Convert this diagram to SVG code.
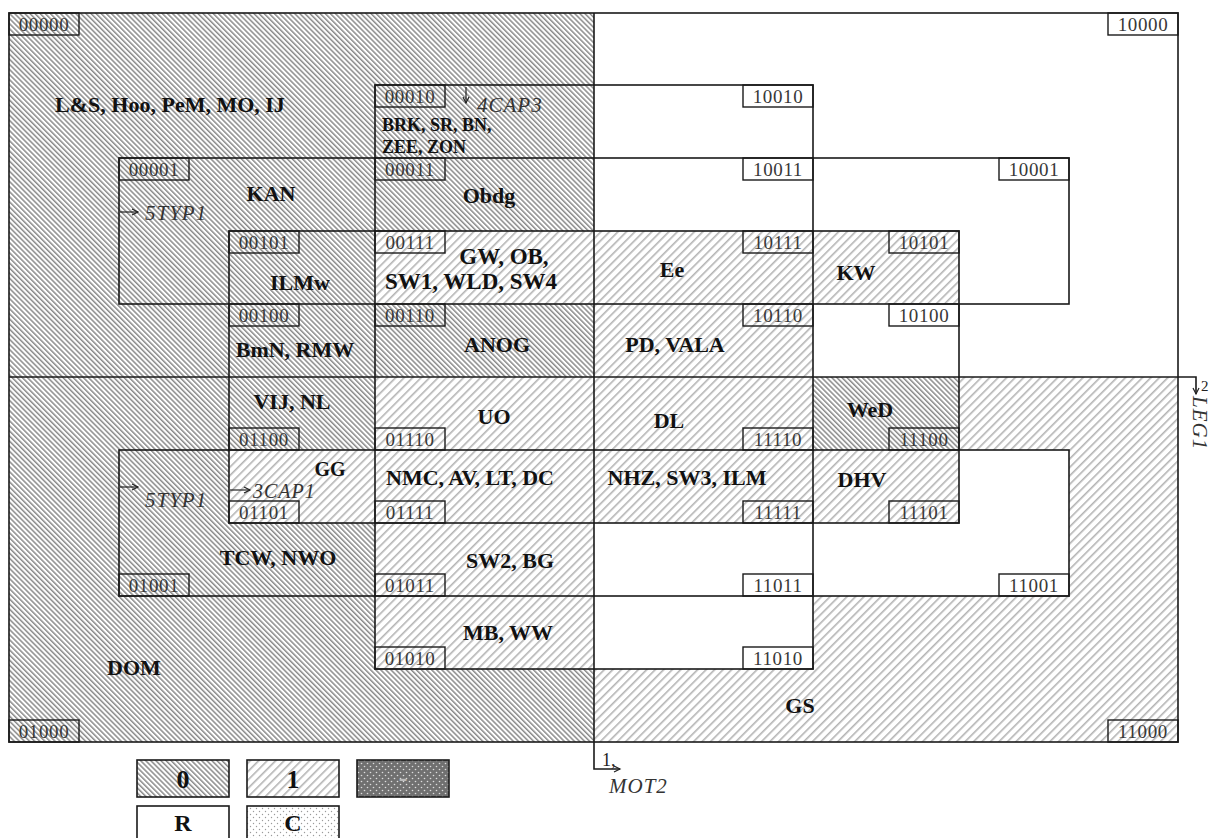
<svg xmlns="http://www.w3.org/2000/svg" width="1210" height="838" viewBox="0 0 1210 838">
<defs>
<pattern id="p0" patternUnits="userSpaceOnUse" width="3.6" height="3.6" patternTransform="rotate(-45)"><rect width="3.6" height="3.6" fill="#ffffff"/><rect width="1.5" height="3.6" fill="#8a8a8a"/></pattern>
<pattern id="p1" patternUnits="userSpaceOnUse" width="6" height="6" patternTransform="rotate(45)"><rect width="6" height="6" fill="#ffffff"/><rect width="1.6" height="6" fill="#b4b4b4"/></pattern>
<pattern id="pd" patternUnits="userSpaceOnUse" width="6" height="6"><rect width="6" height="6" fill="#707070"/><circle cx="1.5" cy="1.5" r="0.8" fill="#dddddd"/><circle cx="4.5" cy="4.5" r="0.8" fill="#dddddd"/></pattern>
<pattern id="pc" patternUnits="userSpaceOnUse" width="6" height="6"><rect width="6" height="6" fill="#ffffff"/><circle cx="1.5" cy="1.5" r="0.7" fill="#9a9a9a"/><circle cx="4.5" cy="4.5" r="0.7" fill="#9a9a9a"/></pattern>
<marker id="ah" markerUnits="userSpaceOnUse" markerWidth="10" markerHeight="10" refX="7" refY="4" orient="auto"><path d="M1,1 L7,4 L1,7" fill="none" stroke="#222" stroke-width="1.2"/></marker>
</defs>
<style>
.ln{fill:none;stroke:#1a1a1a;stroke-width:1.6}
.lb{stroke:#1a1a1a;stroke-width:1.6}
.cb{fill:none;stroke:#1a1a1a;stroke-width:1.4}
.ar{fill:none;stroke:#222;stroke-width:1.2}
.ct{font-family:"Liberation Serif","Times New Roman",serif;font-size:19px;fill:#383838;text-anchor:middle;letter-spacing:0.6px}
.nm{font-family:"Liberation Serif","Times New Roman",serif;font-weight:bold;font-size:22px;fill:#111;text-anchor:middle}
.lg{font-family:"Liberation Serif","Times New Roman",serif;font-weight:bold;font-size:26px;fill:#111;text-anchor:middle}
.sm{font-family:"Liberation Serif","Times New Roman",serif;font-weight:bold;font-size:18px;fill:#111}
.it{font-family:"Liberation Serif","Times New Roman",serif;font-style:italic;font-size:21px;fill:#333;letter-spacing:1px}
.rg{font-family:"Liberation Serif","Times New Roman",serif;font-size:18px;fill:#222}
</style>
<rect width="1210" height="838" fill="#ffffff"/>
<g id="fills">
<rect x="9" y="13" width="585" height="364" fill="url(#p0)"/>
<rect x="594" y="13" width="584" height="364" fill="#ffffff"/>
<rect x="9" y="377" width="585" height="365" fill="url(#p0)"/>
<rect x="594" y="377" width="584" height="365" fill="url(#p1)"/>
<rect x="375" y="231" width="219" height="73" fill="url(#p1)"/>
<rect x="594" y="231" width="219" height="146" fill="url(#p1)"/>
<rect x="813" y="231" width="146" height="73" fill="url(#p1)"/>
<rect x="229" y="450" width="146" height="73" fill="url(#p1)"/>
<rect x="375" y="377" width="219" height="292" fill="url(#p1)"/>
<rect x="813" y="377" width="146" height="73" fill="url(#p0)"/>
<rect x="959" y="450" width="110" height="73" fill="#ffffff"/>
<rect x="813" y="523" width="256" height="73" fill="#ffffff"/>
<rect x="594" y="523" width="219" height="146" fill="#ffffff"/>
</g>
<g id="connectors">
<rect class="ln" x="9" y="13" width="1169" height="729"/>
<rect class="ln" x="229" y="231" width="730" height="292"/>
<rect class="ln" x="375" y="85" width="438" height="584"/>
<rect class="ln" x="119" y="158" width="950" height="146"/>
<rect class="ln" x="119" y="450" width="950" height="146"/>
<path class="ln" d="M594,13 V769 H620" marker-end="url(#ah)"/>
<path class="ln" d="M9,377 H1196 V394" marker-end="url(#ah)"/>
<path class="ar" d="M466,87 V103" marker-end="url(#ah)"/>
<path class="ar" d="M120,212 H138" marker-end="url(#ah)"/>
<path class="ar" d="M120,487 H138" marker-end="url(#ah)"/>
<path class="ar" d="M230,490 H250" marker-end="url(#ah)"/>
</g>
<g id="annotations">
<text class="it" x="477" y="112">4CAP3</text>
<text class="it" x="145" y="220">5TYP1</text>
<text class="it" x="145" y="507">5TYP1</text>
<text class="it" x="253" y="498" style="font-size:20px">3CAP1</text>
<text class="rg" x="602" y="766">1,</text>
<text class="it" x="609" y="793">MOT2</text>
<text class="rg" x="1201" y="391" style="font-size:15px">2</text>
<text class="it" transform="translate(1193,396) rotate(90)">LEG1</text>
</g>
<g id="c00000"><rect class="cb" x="9" y="13" width="70" height="22"/><text class="ct" x="44" y="31">00000</text><text class="nm" x="170" y="112">L&amp;S, Hoo, PeM, MO, IJ</text></g>
<g id="c00001"><rect class="cb" x="119" y="158" width="70" height="22"/><text class="ct" x="154" y="176">00001</text><text class="nm" x="271" y="201">KAN</text></g>
<g id="c00101"><rect class="cb" x="229" y="231" width="70" height="22"/><text class="ct" x="264" y="249">00101</text><text class="nm" x="300" y="290">ILMw</text></g>
<g id="c00100"><rect class="cb" x="229" y="304" width="70" height="22"/><text class="ct" x="264" y="322">00100</text><text class="nm" x="295" y="357">BmN, RMW</text></g>
<g id="c00010"><rect class="cb" x="375" y="85" width="70" height="22"/><text class="ct" x="410" y="103">00010</text><text class="sm" x="382" y="131">BRK, SR, BN,</text><text class="sm" x="382" y="153">ZEE, ZON</text></g>
<g id="c00011"><rect class="cb" x="375" y="158" width="70" height="22"/><text class="ct" x="410" y="176">00011</text><text class="nm" x="489" y="203">Obdg</text></g>
<g id="c00111"><rect class="cb" x="375" y="231" width="70" height="22"/><text class="ct" x="410" y="249">00111</text><text class="nm" x="504" y="264" style="font-size:23px">GW, OB,</text><text class="nm" x="471" y="289" style="font-size:23px">SW1, WLD, SW4</text></g>
<g id="c00110"><rect class="cb" x="375" y="304" width="70" height="22"/><text class="ct" x="410" y="322">00110</text><text class="nm" x="497" y="352">ANOG</text></g>
<g id="c10000"><rect class="cb" x="1108" y="13" width="70" height="22"/><text class="ct" x="1143" y="31">10000</text></g>
<g id="c10010"><rect class="cb" x="743" y="85" width="70" height="22"/><text class="ct" x="778" y="103">10010</text></g>
<g id="c10011"><rect class="cb" x="743" y="158" width="70" height="22"/><text class="ct" x="778" y="176">10011</text></g>
<g id="c10111"><rect class="cb" x="743" y="231" width="70" height="22"/><text class="ct" x="778" y="249">10111</text><text class="nm" x="672" y="277">Ee</text></g>
<g id="c10110"><rect class="cb" x="743" y="304" width="70" height="22"/><text class="ct" x="778" y="322">10110</text><text class="nm" x="675" y="352">PD, VALA</text></g>
<g id="c10001"><rect class="cb" x="999" y="158" width="70" height="22"/><text class="ct" x="1034" y="176">10001</text></g>
<g id="c10101"><rect class="cb" x="889" y="231" width="70" height="22"/><text class="ct" x="924" y="249">10101</text><text class="nm" x="856" y="280">KW</text></g>
<g id="c10100"><rect class="cb" x="889" y="304" width="70" height="22"/><text class="ct" x="924" y="322">10100</text></g>
<g id="c01000"><rect class="cb" x="9" y="720" width="70" height="22"/><text class="ct" x="44" y="738">01000</text><text class="nm" x="134" y="675">DOM</text></g>
<g id="c01001"><rect class="cb" x="119" y="574" width="70" height="22"/><text class="ct" x="154" y="592">01001</text><text class="nm" x="278" y="565">TCW, NWO</text></g>
<g id="c01100"><rect class="cb" x="229" y="428" width="70" height="22"/><text class="ct" x="264" y="446">01100</text><text class="nm" x="292" y="409">VIJ, NL</text></g>
<g id="c01101"><rect class="cb" x="229" y="501" width="70" height="22"/><text class="ct" x="264" y="519">01101</text><text class="nm" x="330" y="476" style="font-size:20px">GG</text></g>
<g id="c01110"><rect class="cb" x="375" y="428" width="70" height="22"/><text class="ct" x="410" y="446">01110</text><text class="nm" x="494" y="424">UO</text></g>
<g id="c01111"><rect class="cb" x="375" y="501" width="70" height="22"/><text class="ct" x="410" y="519">01111</text><text class="nm" x="470" y="485">NMC, AV, LT, DC</text></g>
<g id="c01011"><rect class="cb" x="375" y="574" width="70" height="22"/><text class="ct" x="410" y="592">01011</text><text class="nm" x="510" y="568">SW2, BG</text></g>
<g id="c01010"><rect class="cb" x="375" y="647" width="70" height="22"/><text class="ct" x="410" y="665">01010</text><text class="nm" x="508" y="640">MB, WW</text></g>
<g id="c11000"><rect class="cb" x="1108" y="720" width="70" height="22"/><text class="ct" x="1143" y="738">11000</text><text class="nm" x="800" y="713">GS</text></g>
<g id="c11001"><rect class="cb" x="999" y="574" width="70" height="22"/><text class="ct" x="1034" y="592">11001</text></g>
<g id="c11100"><rect class="cb" x="889" y="428" width="70" height="22"/><text class="ct" x="924" y="446">11100</text><text class="nm" x="870" y="417">WeD</text></g>
<g id="c11101"><rect class="cb" x="889" y="501" width="70" height="22"/><text class="ct" x="924" y="519">11101</text><text class="nm" x="862" y="487">DHV</text></g>
<g id="c11110"><rect class="cb" x="743" y="428" width="70" height="22"/><text class="ct" x="778" y="446">11110</text><text class="nm" x="669" y="428">DL</text></g>
<g id="c11111"><rect class="cb" x="743" y="501" width="70" height="22"/><text class="ct" x="778" y="519">11111</text><text class="nm" x="687" y="485">NHZ, SW3, ILM</text></g>
<g id="c11011"><rect class="cb" x="743" y="574" width="70" height="22"/><text class="ct" x="778" y="592">11011</text></g>
<g id="c11010"><rect class="cb" x="743" y="647" width="70" height="22"/><text class="ct" x="778" y="665">11010</text></g>
<g id="legend">
<g id="leg0"><rect class="lb" x="137" y="760" width="92" height="37" fill="url(#p0)"/><text class="lg" x="183" y="788">0</text></g>
<g id="leg1"><rect class="lb" x="247" y="760" width="92" height="37" fill="url(#p1)"/><text class="lg" x="293" y="788">1</text></g>
<g id="legd"><rect class="lb" x="357" y="760" width="92" height="37" fill="url(#pd)"/><text class="lg" x="403" y="786" style="fill:#bbbbbb">-</text></g>
<g id="legR"><rect class="lb" x="137" y="806" width="92" height="37" fill="#ffffff"/><text class="lg" x="183" y="831" style="font-size:24px">R</text></g>
<g id="legC"><rect class="lb" x="247" y="806" width="92" height="37" fill="url(#pc)"/><text class="lg" x="293" y="831" style="font-size:24px">C</text></g>
</g>
</svg>
